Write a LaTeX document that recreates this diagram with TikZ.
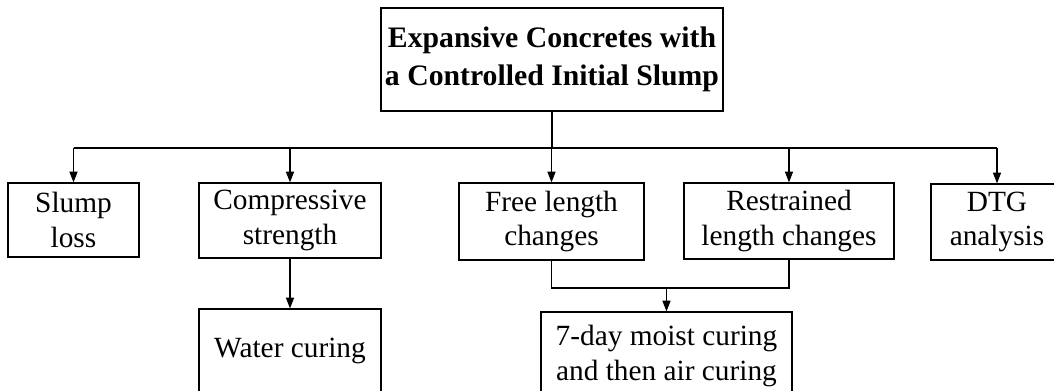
\documentclass[tikz,border=0pt]{standalone}
\usepackage{fontspec}
\setmainfont{Liberation Serif}
\usetikzlibrary{arrows.meta}
\begin{document}
\begin{tikzpicture}[x=0.75pt,y=-0.75pt,
  box/.style={draw=black,line width=0.9pt,align=center,inner sep=0pt,
    font=\fontsize{22}{26}\selectfont},
  link/.style={draw=black,line width=0.9pt},
  arr/.style={link,-{Triangle[length=8pt,width=6pt]}}]
\useasboundingbox (0,0) rectangle (1054,391);
\clip (0,0) rectangle (1054,391);
% nodes
\node[box,minimum width=342*0.75pt,minimum height=103*0.75pt,
  font=\bfseries\fontsize{22.3}{28}\selectfont] (top) at (552,59.5)
  {Expansive Concretes with\\a Controlled Initial Slump};
\node[box,minimum width=131*0.75pt,minimum height=74*0.75pt] (slump) at (73.5,220)
  {Slump\\loss};
\node[box,minimum width=182*0.75pt,minimum height=75*0.75pt] (comp) at (290,220.5)
  {Compressive\\strength};
\node[box,minimum width=185*0.75pt,minimum height=77*0.75pt] (free) at (551.5,221.5)
  {Free length\\changes};
\node[box,minimum width=210*0.75pt,minimum height=76*0.75pt] (restr) at (789,221)
  {Restrained\\length changes};
\node[box,minimum width=132*0.75pt,minimum height=76*0.75pt] (dtg) at (997,222)
  {DTG\\analysis};
\node[box,minimum width=182*0.75pt,minimum height=84*0.75pt] (water) at (290,351)
  {Water curing};
\node[box,minimum width=251*0.75pt,minimum height=88*0.75pt] (moist) at (666.5,356)
  {7-day moist curing\\and then air curing};
% bus coordinates
\coordinate (bus) at (552,148);
\coordinate (join) at (666.5,288);
% connectors
\draw[link] (top.south) -- (top.south |- bus);
\draw[link] (slump.north |- bus) -- (dtg.north |- bus);
\draw[arr] (slump.north |- bus) -- (slump.north);
\draw[arr] (comp.north |- bus) -- (comp.north);
\draw[arr] (free.north |- bus) -- (free.north);
\draw[arr] (restr.north |- bus) -- (restr.north);
\draw[arr] (dtg.north |- bus) -- (dtg.north);
\draw[arr] (comp.south) -- (water.north);
\draw[link] (free.south) -- (free.south |- join) -- (restr.south |- join) -- (restr.south);
\draw[arr] (join) -- (moist.north);
\end{tikzpicture}
\end{document}
